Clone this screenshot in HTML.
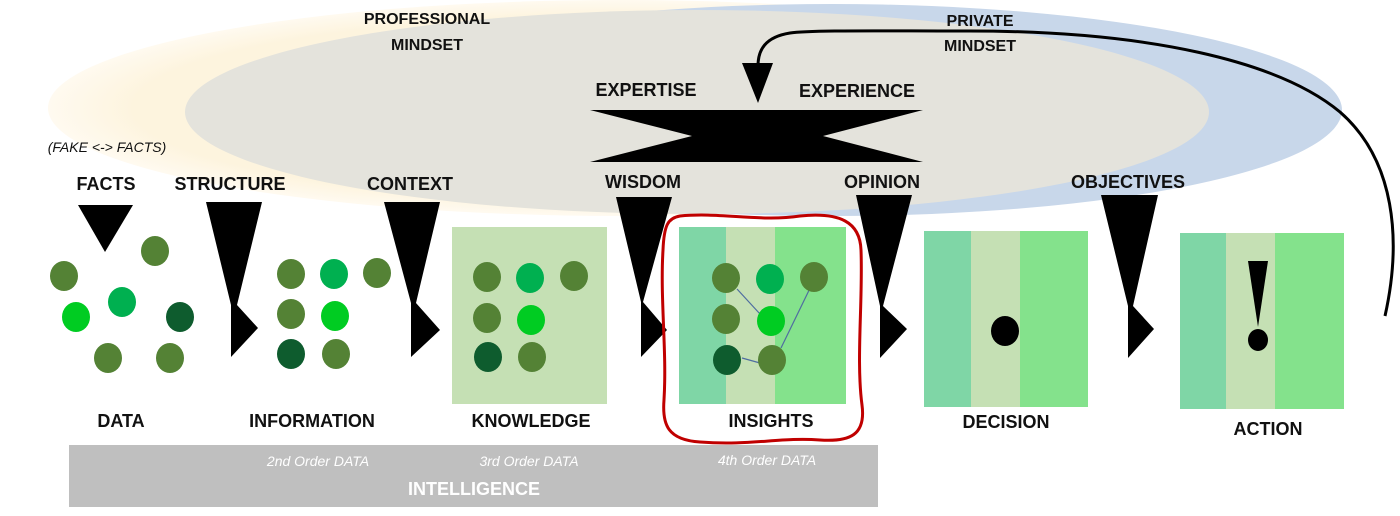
<!DOCTYPE html>
<html><head><meta charset="utf-8"><style>
html,body{margin:0;padding:0;background:#fff}
svg{display:block}
text{font-family:"Liberation Sans",sans-serif}
.b{font-weight:bold;font-size:18px;fill:#111}
.s{font-weight:bold;font-size:16px;fill:#111}
.w{font-style:italic;font-size:14px;fill:#fff}
</style></head><body>
<svg width="1400" height="516" viewBox="0 0 1400 516" xmlns="http://www.w3.org/2000/svg">
<defs>
<radialGradient id="yg" cx="0.5" cy="0.5" r="0.5">
<stop offset="0.85" stop-color="#fdf4de"/><stop offset="1" stop-color="#fffaf0"/>
</radialGradient>
</defs>
<ellipse cx="620" cy="108" rx="572" ry="108" fill="url(#yg)"/>
<ellipse cx="832" cy="110" rx="510" ry="106" fill="#c8d7ea"/>
<ellipse cx="697" cy="112" rx="512" ry="102" fill="#e4e3dc"/>

<text class="s" x="427" y="24" text-anchor="middle">PROFESSIONAL</text>
<text class="s" x="427" y="50" text-anchor="middle">MINDSET</text>
<text class="s" x="980" y="26" text-anchor="middle">PRIVATE</text>
<text class="s" x="980" y="51" text-anchor="middle">MINDSET</text>
<text x="107" y="152" text-anchor="middle" font-style="italic" font-size="14" fill="#111">(FAKE &lt;-&gt; FACTS)</text>

<path d="M1385,316 C1402,240 1395,160 1340,112 C1280,62 1150,30 960,31 C880,31 810,30 790,33 C765,37 758,50 758,66" fill="none" stroke="#000" stroke-width="3"/>
<polygon points="742,63 773,63 758,103" fill="#000"/>

<text class="b" x="646" y="96" text-anchor="middle">EXPERTISE</text>
<text class="b" x="857" y="97" text-anchor="middle">EXPERIENCE</text>
<polygon points="590,110 923,110 823,136 923,162 590,162 692,136" fill="#000"/>

<text class="b" x="106" y="190" text-anchor="middle">FACTS</text>
<text class="b" x="230" y="190" text-anchor="middle">STRUCTURE</text>
<text class="b" x="410" y="190" text-anchor="middle">CONTEXT</text>
<text class="b" x="643" y="188" text-anchor="middle">WISDOM</text>
<text class="b" x="882" y="188" text-anchor="middle">OPINION</text>
<text class="b" x="1128" y="188" text-anchor="middle">OBJECTIVES</text>

<polygon points="78,205 133,205 105,252" fill="#000"/>
<polygon points="206,202 262,202 237,305 258,328 231,357 231,305" fill="#000"/>
<polygon points="384,202 440,202 416,303 440,330 411,357 411,303" fill="#000"/>
<polygon points="616,197 672,197 643,302 667,330 641,357 641,302" fill="#000"/>
<polygon points="856,195 912,195 883,306 907,329 880,358 880,306" fill="#000"/>
<polygon points="1101,195 1158,195 1133,306 1154,329 1128,358 1128,306" fill="#000"/>

<g>
<ellipse cx="155" cy="251" rx="14" ry="15" fill="#548235"/>
<ellipse cx="64" cy="276" rx="14" ry="15" fill="#548235"/>
<ellipse cx="122" cy="302" rx="14" ry="15" fill="#00b050"/>
<ellipse cx="76" cy="317" rx="14" ry="15" fill="#00cc22"/>
<ellipse cx="180" cy="317" rx="14" ry="15" fill="#0e5c2e"/>
<ellipse cx="108" cy="358" rx="14" ry="15" fill="#548235"/>
<ellipse cx="170" cy="358" rx="14" ry="15" fill="#548235"/>
</g>
<g>
<ellipse cx="291" cy="274" rx="14" ry="15" fill="#548235"/>
<ellipse cx="334" cy="274" rx="14" ry="15" fill="#00b050"/>
<ellipse cx="377" cy="273" rx="14" ry="15" fill="#548235"/>
<ellipse cx="291" cy="314" rx="14" ry="15" fill="#548235"/>
<ellipse cx="335" cy="316" rx="14" ry="15" fill="#00cc22"/>
<ellipse cx="291" cy="354" rx="14" ry="15" fill="#0e5c2e"/>
<ellipse cx="336" cy="354" rx="14" ry="15" fill="#548235"/>
</g>
<rect x="452" y="227" width="155" height="177" fill="#c5e0b4"/>
<ellipse cx="487" cy="277" rx="14" ry="15" fill="#548235"/>
<ellipse cx="530" cy="278" rx="14" ry="15" fill="#00b050"/>
<ellipse cx="574" cy="276" rx="14" ry="15" fill="#548235"/>
<ellipse cx="487" cy="318" rx="14" ry="15" fill="#548235"/>
<ellipse cx="531" cy="320" rx="14" ry="15" fill="#00cc22"/>
<ellipse cx="488" cy="357" rx="14" ry="15" fill="#0e5c2e"/>
<ellipse cx="532" cy="357" rx="14" ry="15" fill="#548235"/>
<rect x="679" y="227" width="47" height="177" fill="#7fd6a6"/>
<rect x="726" y="227" width="49" height="177" fill="#c5e0b4"/>
<rect x="775" y="227" width="71" height="177" fill="#84e28c"/>
<g stroke="#4f6da0" stroke-width="1.2">
<line x1="737" y1="289" x2="760" y2="314"/>
<line x1="814" y1="280" x2="781" y2="348"/>
<line x1="742" y1="358" x2="760" y2="363"/>
</g>
<ellipse cx="726" cy="278" rx="14" ry="15" fill="#548235"/>
<ellipse cx="770" cy="279" rx="14" ry="15" fill="#00b050"/>
<ellipse cx="814" cy="277" rx="14" ry="15" fill="#548235"/>
<ellipse cx="726" cy="319" rx="14" ry="15" fill="#548235"/>
<ellipse cx="771" cy="321" rx="14" ry="15" fill="#00cc22"/>
<ellipse cx="727" cy="360" rx="14" ry="15" fill="#0e5c2e"/>
<ellipse cx="772" cy="360" rx="14" ry="15" fill="#548235"/>
<path d="M680,216 C720,212 760,222 800,216 C840,212 860,222 861,250 C863,300 856,360 862,405 C866,435 850,442 820,440 C780,437 750,446 700,442 C668,440 662,425 664,400 C667,350 660,300 663,250 C664,225 668,218 680,216 Z" fill="none" stroke="#c00000" stroke-width="3"/>
<rect x="924" y="231" width="47" height="176" fill="#7fd6a6"/>
<rect x="971" y="231" width="49" height="176" fill="#c5e0b4"/>
<rect x="1020" y="231" width="68" height="176" fill="#84e28c"/>
<ellipse cx="1005" cy="331" rx="14" ry="15" fill="#000"/>
<rect x="1180" y="233" width="46" height="176" fill="#7fd6a6"/>
<rect x="1226" y="233" width="49" height="176" fill="#c5e0b4"/>
<rect x="1275" y="233" width="69" height="176" fill="#84e28c"/>
<polygon points="1248,261 1268,261 1258,327" fill="#000"/>
<ellipse cx="1258" cy="340" rx="10" ry="11" fill="#000"/>

<text class="b" x="121" y="427" text-anchor="middle">DATA</text>
<text class="b" x="312" y="427" text-anchor="middle">INFORMATION</text>
<text class="b" x="531" y="427" text-anchor="middle">KNOWLEDGE</text>
<text class="b" x="771" y="427" text-anchor="middle">INSIGHTS</text>
<text class="b" x="1006" y="428" text-anchor="middle">DECISION</text>
<text class="b" x="1268" y="435" text-anchor="middle">ACTION</text>

<rect x="69" y="445" width="809" height="62" fill="#bfbfbf"/>
<text class="w" x="318" y="466" text-anchor="middle">2nd Order DATA</text>
<text class="w" x="529" y="466" text-anchor="middle">3rd Order DATA</text>
<text class="w" x="767" y="465" text-anchor="middle">4th Order DATA</text>
<text x="474" y="495" text-anchor="middle" font-weight="bold" font-size="18" fill="#fff">INTELLIGENCE</text>
</svg>
</body></html>
